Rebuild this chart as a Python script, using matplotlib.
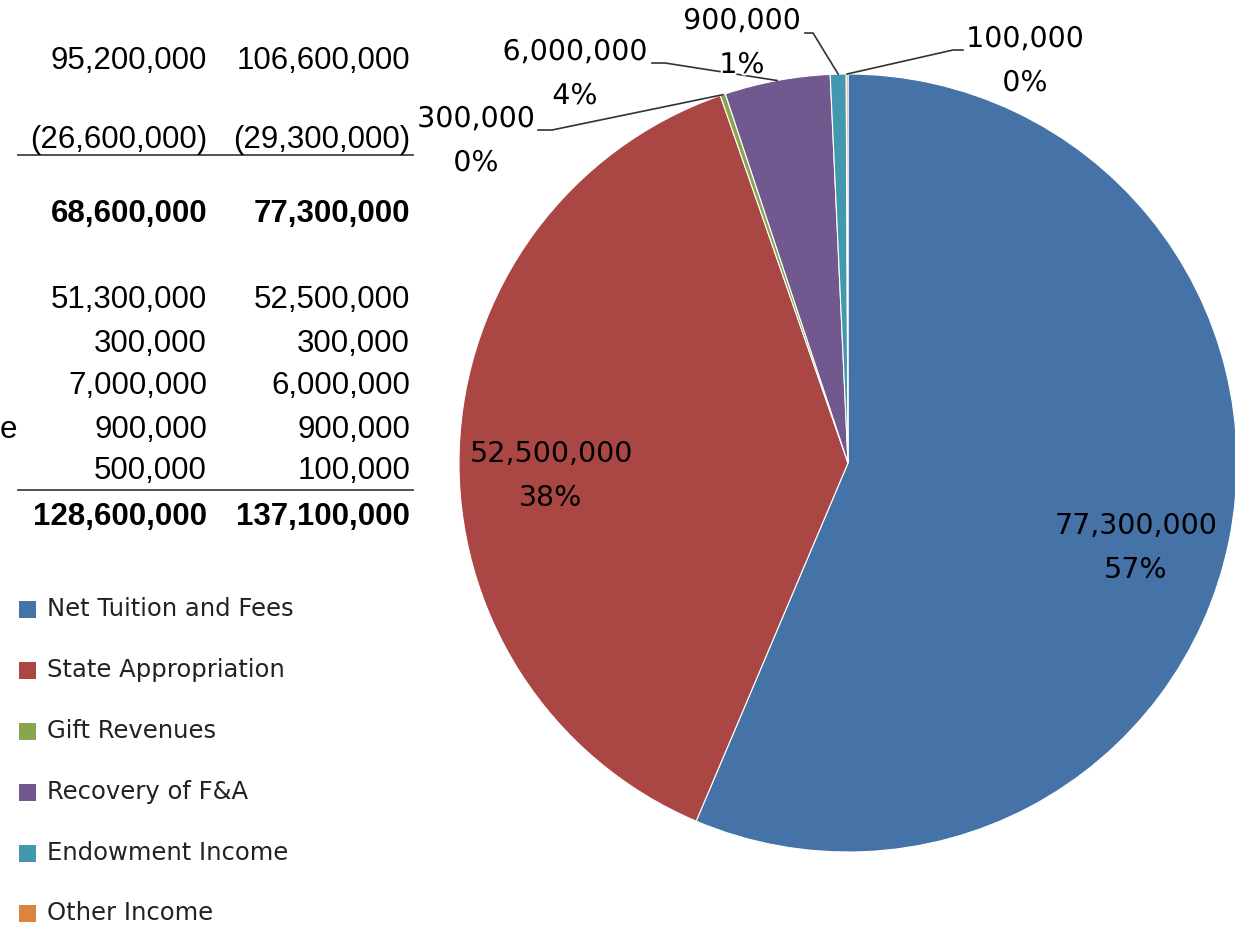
import matplotlib
matplotlib.use("Agg")
import matplotlib.pyplot as plt
from matplotlib.patches import Rectangle
import matplotlib.patheffects as pe
import numpy as np

W, H = 1235, 926
# pie data
cats = ["Net Tuition and Fees", "State Appropriation", "Gift Revenues",
        "Recovery of F&A", "Endowment Income", "Other Income"]
vals = [77300000, 52500000, 300000, 6000000, 900000, 100000]
pct_txt = ["57%", "38%", "0%", "4%", "1%", "0%"]
colors = ["#4572A7", "#AA4643", "#89A54E", "#71588F", "#4198AF", "#DB843D"]

# table on the left (two year columns)
col_a = [95200000, -26600000, 68600000, 51300000, 300000, 7000000, 900000, 500000, 128600000]
col_b = [106600000, -29300000, 77300000, 52500000, 300000, 6000000, 900000, 100000, 137100000]
bold_rows = [2, 8]

def fmt(v):
    return f"({abs(v):,})" if v < 0 else f"{v:,}"

fig = plt.figure(figsize=(W/100, H/100), dpi=100)
ax = fig.add_axes([0, 0, 1, 1])
Y = lambda y: H - y  # image px -> axes coords

# ---- table ----
row_y = [61, 140, 214, 300, 344, 386, 430, 471, 517]
for i, (a, b) in enumerate(zip(col_a, col_b)):
    w = "bold" if i in bold_rows else "normal"
    for v, x in ((a, 207), (b, 410)):
        ax.text(x, Y(row_y[i]), fmt(v), ha="right", va="center", fontsize=22.5,
                family="Liberation Sans", weight=w, color="black")
for yy in (155, 490):
    ax.plot([18, 413], [Y(yy), Y(yy)], color="#444444", lw=1.3)
# tail of a row label cut off by the crop
ax.text(0, Y(430), "e", ha="left", va="center", fontsize=22.5, family="Liberation Sans")

# ---- pie ----
cx, cy, r = 848, 463, 389
wedges, _ = ax.pie(vals, colors=colors, startangle=90, counterclock=False,
                   center=(cx, Y(cy)), radius=r, frame=True,
                   wedgeprops=dict(edgecolor="white", linewidth=0.8))

lab_kw = dict(ha="center", va="center", fontsize=20.5, family="DejaVu Sans", color="black",
              path_effects=[pe.withStroke(linewidth=3, foreground="white")])
inner_kw = dict(ha="center", va="center", fontsize=20.5, family="DejaVu Sans", color="black")
# label block centres (image px) and leader-line anchors
lab_pos = [(1136, 548), (551, 476), (476, 141), (575, 74), (742, 43), (1025, 61)]
line_start = [None, None, (538, 130), (652, 63), (805, 33), (963, 50)]
line_knee = [None, None, (552, 130), (665, 63), (813, 33), (953, 50)]
for i, wdg in enumerate(wedges):
    x, y = lab_pos[i]
    kw = inner_kw if i < 2 else lab_kw
    ax.text(x, Y(y - 22), f"{vals[i]:,}", **kw)
    ax.text(x, Y(y + 22), pct_txt[i], **kw)
    if line_start[i] is not None:
        mid = np.deg2rad((wdg.theta1 + wdg.theta2) / 2)
        ex, ey = cx + r * np.cos(mid), Y(cy) + r * np.sin(mid)
        sx, sy = line_start[i]
        kx, ky = line_knee[i]
        ax.plot([sx, kx, ex], [Y(sy), Y(ky), ey], color="#333333", lw=1.2)

# ---- legend ----
leg_y = [609, 670, 731, 792, 853, 913]
for i, c in enumerate(cats):
    ax.add_patch(Rectangle((19, Y(leg_y[i]) - 8.5), 17, 17, color=colors[i], lw=0))
    ax.text(47, Y(leg_y[i]), c, ha="left", va="center", fontsize=17.5,
            family="DejaVu Sans", color="#222222")

ax.set_xlim(0, W); ax.set_ylim(0, H)
ax.set_aspect("equal")
ax.axis("off")
fig.savefig("out.png", dpi=100)
